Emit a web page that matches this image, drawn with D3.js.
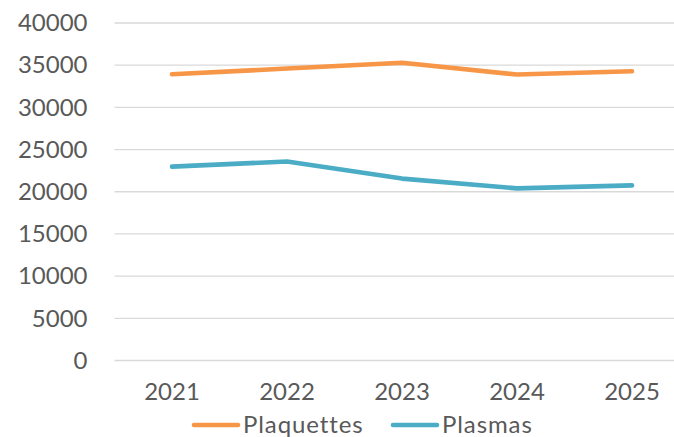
<!DOCTYPE html>
<html>
<head>
<meta charset="utf-8">
<script src="https://cdn.jsdelivr.net/npm/d3@7"></script>
<style>
  html, body { margin: 0; padding: 0; background: #fff; }
  svg { display: block; }
</style>
</head>
<body>
<svg id="chart" width="674" height="437"></svg>
<script>
// Annual volumes by product
const years = ["2021", "2022", "2023", "2024", "2025"];
const plaquettes = [33930, 34600, 35280, 33890, 34290];
const plasmas = [22980, 23580, 21560, 20400, 20760];
const yTicks = [0, 5000, 10000, 15000, 20000, 25000, 30000, 35000, 40000];
const seriesNames = ["Plaquettes", "Plasmas"];
const seriesColors = ["#F79646", "#4BACC6"];

const series = [
  { name: seriesNames[0], values: plaquettes, color: seriesColors[0] },
  { name: seriesNames[1], values: plasmas, color: seriesColors[1] }
];

const svg = d3.select("#chart");
const font = "Lato, 'Open Sans', sans-serif";
const textColor = "#595959";

const plot = { left: 114.5, right: 689.5, top: 23, bottom: 360.5 };

const x = d3.scaleBand().domain(years).range([plot.left, plot.right]);
const y = d3.scaleLinear().domain([0, 40000]).range([plot.bottom, plot.top]);

// Horizontal gridlines
svg.append("g")
  .selectAll("line")
  .data(yTicks)
  .join("line")
  .attr("x1", plot.left)
  .attr("x2", plot.right)
  .attr("y1", d => y(d))
  .attr("y2", d => y(d))
  .attr("stroke", "#D9D9D9")
  .attr("stroke-width", 1.3);

// Y axis labels
const yAxis = d3.axisLeft(y).tickValues(yTicks).tickSize(0).tickPadding(0)
  .tickFormat(d3.format("d"));
const gy = svg.append("g")
  .attr("transform", `translate(${plot.left - 27},0)`)
  .call(yAxis);
gy.select(".domain").remove();
gy.selectAll("text")
  .attr("fill", textColor)
  .style("font-family", font)
  .style("font-size", "24px");

// X axis labels
const xAxis = d3.axisBottom(x).tickSize(0).tickPadding(0);
const gx = svg.append("g")
  .attr("transform", `translate(0,${plot.bottom + 22})`)
  .call(xAxis);
gx.select(".domain").remove();
gx.selectAll("text")
  .attr("fill", textColor)
  .style("font-family", font)
  .style("font-size", "24px");

// Lines
const line = d3.line()
  .x((d, i) => x(years[i]) + x.bandwidth() / 2)
  .y(d => y(d));

svg.append("g")
  .selectAll("path")
  .data(series)
  .join("path")
  .attr("d", d => line(d.values))
  .attr("fill", "none")
  .attr("stroke", d => d.color)
  .attr("stroke-width", 4.6)
  .attr("stroke-linecap", "round")
  .attr("stroke-linejoin", "round");

// Legend
const legendY = 425;
const legendItems = [
  { x0: 192, tx: 243 },
  { x0: 391, tx: 442 }
];
const lg = svg.append("g");
series.forEach((s, i) => {
  const it = legendItems[i];
  lg.append("line")
    .attr("x1", it.x0 + 2).attr("x2", it.x0 + 46)
    .attr("y1", legendY).attr("y2", legendY)
    .attr("stroke", s.color)
    .attr("stroke-width", 4.6)
    .attr("stroke-linecap", "round");
  lg.append("text")
    .attr("x", it.tx)
    .attr("y", legendY)
    .attr("dy", "0.35em")
    .attr("fill", textColor)
    .style("font-family", font)
    .style("font-size", "24px")
    .style("letter-spacing", "0.9px")
    .text(s.name);
});
</script>
</body>
</html>
